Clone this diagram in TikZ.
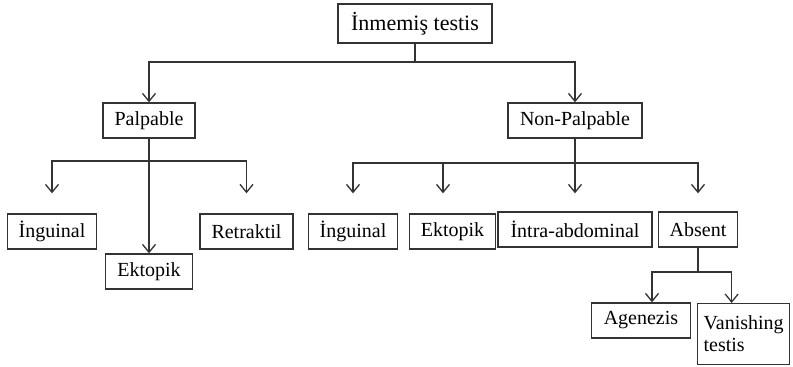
\documentclass[tikz,border=0pt]{standalone}
\usepackage{fontspec}
\setmainfont{Liberation Serif}
\usetikzlibrary{arrows.meta}

\begin{document}
\begin{tikzpicture}
    [ x=1pt, y=-1pt
    , line width=1.3pt
    , box/.style={draw=black!80, rectangle, inner xsep=11.5pt, minimum height=35pt, font=\fontsize{20}{22}\selectfont}
    , link/.style={draw=black!80, -{Straight Barb[length=8pt,width=13pt]}}
    , open/.style={link, shorten >=20pt}
    ]
  \useasboundingbox (0,0) rectangle (793,367);
  \node[box, minimum height=39pt, inner xsep=13pt, font=\fontsize{22}{24}\selectfont] (top) at (415,23.5) {İnmemiş testis};
  \node[box] (palp) at (149,120.5) {Palpable};
  \node[box, inner xsep=12pt] (nonp) at (575,120.5) {Non-Palpable};
  \node[box] (ingA) at (52,231.5) {İnguinal};
  \node[box] (ektA) at (149,271.5) {Ektopik};
  \node[box] (retr) at (246.5,231.5) {Retraktil};
  \node[box] (ingB) at (353,231.5) {İnguinal};
  \node[box] (ektB) at (452.5,231.5) {Ektopik};
  \node[box, inner xsep=12.5pt] (intra) at (575,229.5) {İntra-abdominal};
  \node[box] (absent) at (698,229.5) {Absent};
  \node[box, inner xsep=12pt] (agen) at (641,320.5) {Agenezis};
  \node[box, anchor=north west, inner xsep=6pt, minimum height=61pt, align=left] (van) at (697,303) {Vanishing\\testis};
  \coordinate (f0) at (415,62);
  \coordinate (f1) at (149,161);
  \coordinate (f2) at (575,163);
  \coordinate (f3) at (698,272);
  \draw[draw=black!80] (top) -- (f0);
  \draw[link] (f0) -| (palp);
  \draw[link] (f0) -| (nonp);
  \draw[open] (f1) -| (ingA);
  \draw[open] (f1) -| (retr);
  \draw[link] (palp) -- (ektA);
  \draw[draw=black!80] (nonp) -- (f2);
  \draw[open] (f2) -| (ingB);
  \draw[open] (f2) -| ([xshift=-9.5pt]ektB.north);
  \draw[open, shorten >=18pt] (f2) -- (intra);
  \draw[open, shorten >=18pt] (f2) -| (absent);
  \draw[draw=black!80] (absent) -- (f3);
  \draw[link] (f3) -| ([xshift=11pt]agen.north);
  \draw[link] (f3) -| ([xshift=-12pt]van.north);
\end{tikzpicture}
\end{document}
